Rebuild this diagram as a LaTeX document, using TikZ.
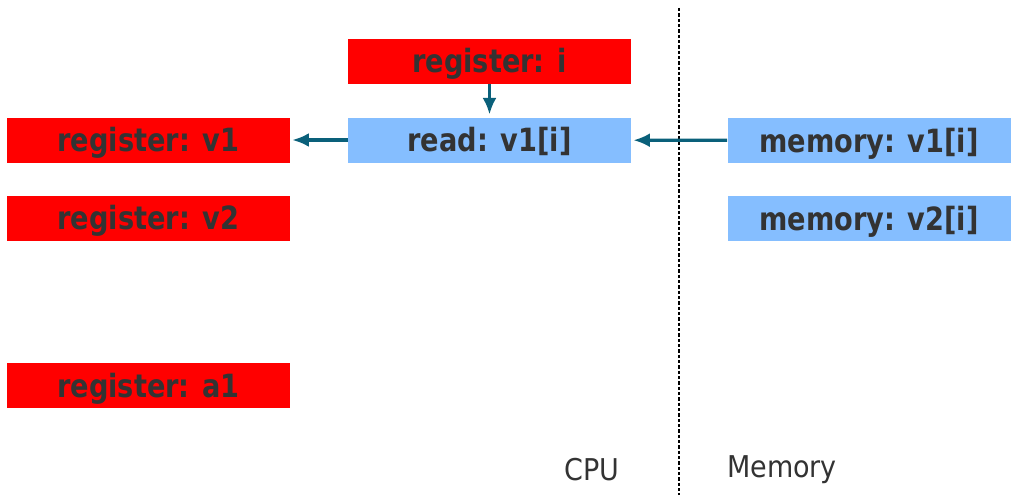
\documentclass[tikz,border=0pt]{standalone}
\usepackage{fontspec}
\setmainfont{DejaVu Sans}
\usetikzlibrary{positioning,arrows.meta}
\definecolor{regred}{RGB}{255,0,0}
\definecolor{memblue}{RGB}{133,190,255}
\definecolor{txtgray}{RGB}{51,51,51}
\definecolor{flowteal}{RGB}{10,96,122}

\begin{document}
\begin{tikzpicture}[x=0.75pt,y=-0.75pt]

      \useasboundingbox (0,0) rectangle (1016,503);

      \begin{scope}[every node/.style={minimum width=212.25pt, minimum height=33.75pt,
          inner sep=0pt, text=txtgray, text height=17.25pt, text depth=0pt,
          font=\fontsize{24}{28}\selectfont\bfseries\addfontfeature{FakeStretch=0.85}}]
        \node[fill=regred]  (regi)  at (489.5,61.5)  {register: i};
        \node[fill=memblue] (read)  at (489.5,140)   {read: v1[i]};
        \node[fill=regred]  (regv1) at (148.5,140)   {register: v1};
        \node[fill=regred]  (regv2) at (148.5,218)   {register: v2};
        \node[fill=regred]  (rega1) at (148.5,385.5) {register: a1};
        \node[fill=memblue] (memv1) at (869,140.5)   {memory: v1[i]};
        \node[fill=memblue] (memv2) at (869,218.5)   {memory: v2[i]};
      \end{scope}

      \begin{scope}[every node/.style={text=txtgray,
          font=\fontsize{22.5}{26}\selectfont\addfontfeature{FakeStretch=0.9}}]
        \node (cpu) at (592,470) {CPU};
        \node (mem) at (782,470) {Memory};
      \end{scope}

      \coordinate (divtop) at (679,8);
      \coordinate (divbot) at (679,495);
      \draw[line width=1.6pt, dash pattern=on 2.4pt off 1.6pt] (divtop) -- (divbot);

      \begin{scope}[every path/.style={draw=flowteal, line width=2.5pt,
          -{Latex[length=12.5pt,width=10.5pt]}}]
        \path (regi)  edge[shorten >=2pt] (read);
        \path (read)  edge[shorten >=1.5pt] (regv1);
        \path (memv1) edge[shorten >=1.5pt] (read);
      \end{scope}

    \end{tikzpicture}
\end{document}
